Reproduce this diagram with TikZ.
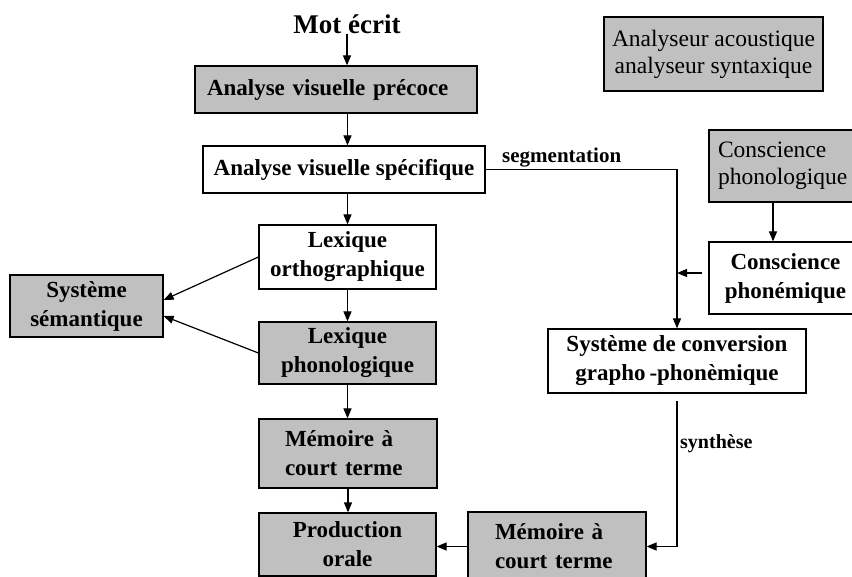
\documentclass[tikz,border=0pt]{standalone}
\usepackage{fontspec}
\setmainfont{Liberation Serif}
\usetikzlibrary{arrows.meta}
\definecolor{boxgray}{RGB}{192,192,192}
\begin{document}
\begin{tikzpicture}[x=1pt,y=-1pt,
  box/.style={draw, line width=1.2pt, rectangle, inner sep=0pt, align=center,
    font=\bfseries\fontsize{23}{29}\selectfont},
  gbox/.style={box, fill=boxgray},
  plain/.style={font=\fontsize{23.5}{27}\selectfont},
  arr/.style={line width=1.2pt, -{Triangle[length=10pt,width=8pt]}}]
\useasboundingbox (0,0) rectangle (852,577);

\node[inner sep=0pt, font=\bfseries\fontsize{27}{30}\selectfont] (mot) at (347,24) {Mot écrit};
\node[gbox, minimum width=282pt, minimum height=47pt, inner xsep=12pt, text width=258pt, align=left] (b1) at (336,89.5) {Analyse visuelle précoce};
\node[box, minimum width=282pt, minimum height=47pt] (b2) at (344,169.5) {Analyse visuelle spécifique};
\node[box, minimum width=177pt, minimum height=64pt] (lo) at (347.5,257) {Lexique\\orthographique};
\node[gbox, minimum width=177pt, minimum height=62pt] (lp) at (347.5,353) {Lexique\\phonologique};
\node[gbox, minimum width=153pt, minimum height=62pt] (sem) at (86.5,306) {Système\\sémantique};
\node[gbox, minimum width=178pt, minimum height=69pt, inner xsep=26pt, text width=126pt, align=left] (m1) at (348,453.5) {Mémoire à\\court terme};
\node[gbox, minimum width=177pt, minimum height=63pt] (po) at (347.5,544.5) {Production\\orale};
\node[gbox, minimum width=178pt, minimum height=69pt, inner xsep=27pt, text width=124pt, align=left] (m2) at (557,546.5) {Mémoire à\\court terme};
\node[box, minimum width=258pt, minimum height=64pt] (conv) at (677,361) {Système de conversion\\grapho\,-phonèmique};
\node[box, minimum width=153pt, minimum height=72pt] (cphem) at (785.5,278) {Conscience\\phonémique};
\node[gbox, plain, minimum width=153pt, minimum height=72pt, inner xsep=9pt, text width=135pt, align=left] (cphon) at (785.5,166) {Conscience\\phonologique};
\node[gbox, plain, minimum width=219pt, minimum height=74pt] (ana) at (713.5,54) {Analyseur acoustique\\analyseur syntaxique};

\node[inner sep=0pt, anchor=base west, font=\bfseries\fontsize{21}{24}\selectfont] (seg) at (502,163) {segmentation};
\node[inner sep=0pt, anchor=base west, font=\bfseries\fontsize{20}{24}\selectfont] (syn) at (680,448) {synthèse};

\draw[arr] (mot.south) -- (b1.north -| mot.south);
\draw[arr] (b1.south -| lo.north) -- (b2.north -| lo.north);
\draw[arr] (b2.south -| lo.north) -- (lo.north);
\draw[arr] (lo.south) -- (lp.north);
\draw[arr] (lp.south) -- (m1.north -| lp.south);
\draw[arr] (m1.south) -- (po.north -| m1.south);
\draw[arr] (lo.west) -- ([yshift=6pt]sem.east);
\draw[arr] (lp.west) -- ([yshift=-10pt]sem.east);
\draw[arr] (b2.east) -| (conv.north);
\draw[arr] ([xshift=-12.5pt]cphon.south) -- ([xshift=-12.5pt]cphem.north);
\coordinate (p1) at (702,273);
\coordinate (p2) at (677,273);
\draw[arr] (p1) -- (p2);
\coordinate (s1) at (677,401);
\draw[arr] (s1) |- (m2.east);
\draw[arr] (m2.west) -- (m2.west -| po.east);
\end{tikzpicture}
\end{document}
